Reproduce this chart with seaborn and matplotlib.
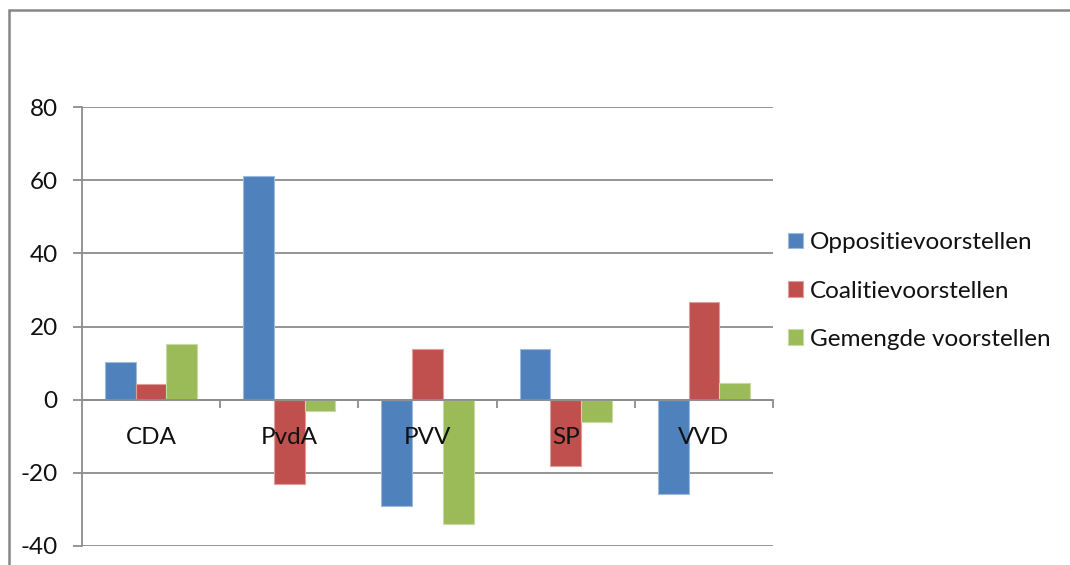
import matplotlib
matplotlib.use("Agg")
import matplotlib.pyplot as plt
import matplotlib.colors as mcolors
from matplotlib.patches import Rectangle
from matplotlib.ticker import FixedLocator, NullFormatter
import seaborn as sns
import pandas as pd

categories = ["CDA", "PvdA", "PVV", "SP", "VVD"]
series_names = ["Oppositievoorstellen", "Coalitievoorstellen", "Gemengde voorstellen"]
oppositie = [10.3, 61.1, -29.0, 13.8, -25.7]
coalitie = [4.3, -23.0, 13.8, -18.0, 26.7]
gemengd = [15.2, -3.0, -34.0, -6.2, 4.5]
y_ticks = [-40, -20, 0, 20, 40, 60, 80]
colors = ["#4F81BD", "#C0504D", "#9BBB59"]

rows = []
for name, vals in zip(series_names, [oppositie, coalitie, gemengd]):
    for c, v in zip(categories, vals):
        rows.append({"Partij": c, "Serie": name, "Waarde": v})
df = pd.DataFrame(rows)

sns.set_theme(style="white")
plt.rcParams["font.family"] = ["Lato", "DejaVu Sans"]

fig = plt.figure(figsize=(10.7, 5.65), dpi=100)
ax = fig.add_axes([82 / 1070, 1 - 546 / 565, (773 - 82) / 1070, (546 - 107) / 565])

sns.barplot(data=df, x="Partij", y="Waarde", hue="Serie", order=categories,
            hue_order=series_names, palette=colors, width=0.667,
            saturation=1, errorbar=None, ax=ax, legend=True)

for p in ax.patches:
    fc = mcolors.to_rgb(p.get_facecolor())
    light = tuple(c + (1 - c) * 0.45 for c in fc)
    p.set_edgecolor(light)
    p.set_linewidth(0.8)

grid_c = "#8c8c8c"
ax.set_ylim(-40, 80)
ax.set_xlim(-0.5, len(categories) - 0.5)
ax.set_yticks(y_ticks)
ax.set_yticklabels([str(t) for t in y_ticks])
ax.yaxis.grid(True, color=grid_c, linewidth=1.3)
ax.set_axisbelow(True)
ax.set_xlabel("")
ax.set_ylabel("")

for s in ["top", "right"]:
    ax.spines[s].set_visible(False)
ax.spines["left"].set_color(grid_c)
ax.spines["left"].set_linewidth(1.3)
ax.spines["bottom"].set_position(("data", 0))
ax.spines["bottom"].set_color(grid_c)
ax.spines["bottom"].set_linewidth(1.3)

ax.tick_params(axis="y", which="major", direction="out", length=6.5, width=1.3,
               color=grid_c, pad=11, labelsize=17.5, labelcolor="#111111", left=True)
ax.tick_params(axis="x", which="major", length=0, labelbottom=False)
ax.xaxis.set_minor_locator(FixedLocator([i + 0.5 for i in range(len(categories))]))
ax.xaxis.set_minor_formatter(NullFormatter())
ax.tick_params(axis="x", which="minor", direction="out", length=6, width=1.3,
               color=grid_c, bottom=True)

# category labels drawn above the bars, just below the zero line
for i, c in enumerate(categories):
    ax.annotate(c, xy=(i, 0), xytext=(0, -27), textcoords="offset points",
                ha="center", va="center", fontsize=17.5, color="#111111",
                zorder=10, annotation_clip=False)

handles, labels = ax.get_legend_handles_labels()
ax.legend_.remove()
fig.legend(handles, labels, loc="center left", bbox_to_anchor=(776 / 1070, 1 - 291 / 565),
           frameon=False, fontsize=17.5, handlelength=0.6, handleheight=0.6,
           handletextpad=0.3, labelspacing=1.12, borderpad=0, labelcolor="#111111")

fig.patches.append(Rectangle((8.5 / 1070, -0.1), 1.2, 1 - 9.5 / 565 + 0.1,
                             transform=fig.transFigure, fill=False,
                             edgecolor="#868686", linewidth=1.8))

fig.savefig("out.png", dpi=100, facecolor="white")
